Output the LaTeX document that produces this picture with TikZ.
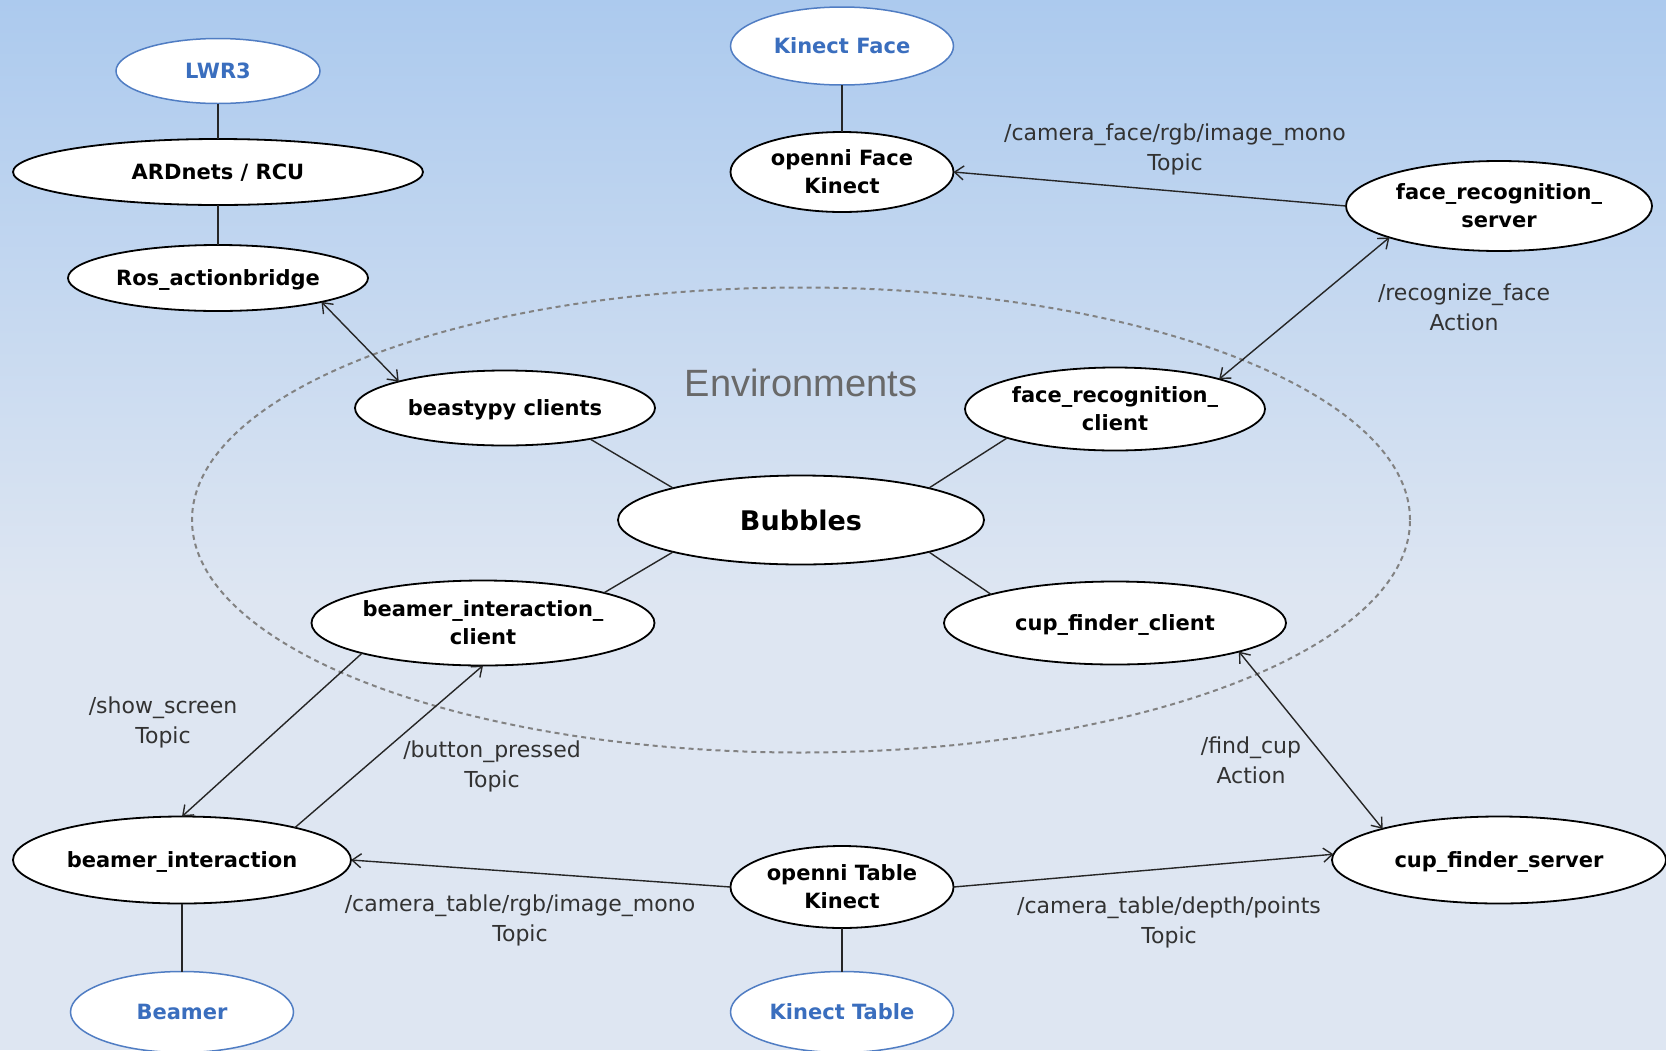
\documentclass[tikz,border=0pt]{standalone}
\usepackage{fontspec}
\setmainfont{DejaVu Sans}
\newfontfamily\envfont{Liberation Sans}
\usetikzlibrary{shapes.geometric,arrows.meta}
\definecolor{bgtop}{RGB}{172,202,238}
\definecolor{bgbot}{RGB}{222,230,242}
\definecolor{hwblue}{RGB}{58,110,190}
\definecolor{hwline}{RGB}{80,125,195}
\definecolor{lblgray}{RGB}{50,50,50}
\definecolor{envgray}{RGB}{105,105,105}
\definecolor{dashgray}{RGB}{130,130,130}
\begin{document}
\begin{tikzpicture}[x=1pt,y=-1pt,
  sw/.style={ellipse, draw=black, line width=1.8pt, fill=white, inner sep=0pt, outer sep=0pt, align=center, font=\fontsize{21}{28}\selectfont\bfseries},
  one/.style={text depth=0pt},
  hw/.style={sw, draw=hwline, line width=1.5pt, text=hwblue},
  conn/.style={draw=black!85, line width=1.4pt},
  tip/.style={conn, -{Straight Barb[length=9pt,width=14pt]}},
  tips/.style={conn, {Straight Barb[length=9pt,width=14pt]}-{Straight Barb[length=9pt,width=14pt]}},
  lbl/.style={align=center, text=lblgray, font=\fontsize{22}{30}\selectfont, inner sep=0pt}]
\useasboundingbox (0,0) rectangle (1666,1050);
\shade[top color=bgtop, bottom color=bgbot] (0,0) rectangle (1666,600);
\fill[bgbot] (0,599) rectangle (1666,1050);
% environment ellipse
\node[ellipse, draw=dashgray, line width=2pt, dash pattern=on 5pt off 4pt, minimum width=1218pt, minimum height=465pt, inner sep=0pt] (env) at (801,520) {};
\node[text=envgray, font=\envfont\fontsize{38}{40}\selectfont, inner sep=0pt] (envlbl) at (801,383) {Environments};
% nodes
\node[hw, minimum width=204pt, minimum height=65pt] (lwr) at (218,71) {LWR3};
\node[sw, one, minimum width=410pt, minimum height=66pt] (ard) at (218,172) {ARDnets / RCU};
\node[sw, one, minimum width=300pt, minimum height=66pt] (ros) at (218,278) {Ros\_actionbridge};
\node[hw, minimum width=223pt, minimum height=78pt] (kface) at (842,46) {Kinect Face};
\node[sw, minimum width=223pt, minimum height=80pt] (oface) at (842,172) {openni Face\\Kinect};
\node[sw, minimum width=306pt, minimum height=90pt] (frs) at (1499,206) {face\_recognition\_\\server};
\node[sw, one, minimum width=300pt, minimum height=75pt] (beast) at (505,408) {beastypy clients};
\node[sw, minimum width=300pt, minimum height=83pt] (frc) at (1115,409) {face\_recognition\_\\client};
\node[sw, minimum width=366pt, minimum height=89pt, font=\fontsize{27}{32}\selectfont\bfseries] (bub) at (801,520) {Bubbles};
\node[sw, minimum width=343pt, minimum height=85pt] (bic) at (483,623) {beamer\_interaction\_\\client};
\node[sw, one, minimum width=342pt, minimum height=83pt] (cfc) at (1115,623) {cup\_finder\_client};
\node[sw, one, minimum width=338pt, minimum height=87pt] (bi) at (182,860) {beamer\_interaction};
\node[sw, minimum width=223pt, minimum height=82pt] (otab) at (842,887) {openni Table\\Kinect};
\node[sw, one, minimum width=334pt, minimum height=87pt] (cfs) at (1499,860) {cup\_finder\_server};
\node[hw, minimum width=223pt, minimum height=81pt] (beamer) at (182,1012) {Beamer};
\node[hw, minimum width=223pt, minimum height=81pt] (ktab) at (842,1012) {Kinect Table};
% plain connectors
\draw[conn] (lwr.south) -- (ard.north);
\draw[conn] (ard.south) -- (ros.north);
\draw[conn] (kface.south) -- (oface.north);
\draw[conn] (otab.south) -- (ktab.north);
\draw[conn] (bi.south) -- (beamer.north);
\draw[conn] (bub.166) -- (beast.-20);
\draw[conn] (bub.14) -- (frc.195);
\draw[conn] (bub.194) -- (bic.14);
\draw[conn] (bub.-14) -- (cfc.167);
% arrows
\draw[tips] (ros.-13) -- (beast.166);
\draw[tip] (frs.west) -- (oface.east);
\draw[tips] (frc.16) -- (frs.196);
\draw[tip] (bic.194) -- (bi.north);
\draw[tip] (bi.16) -- (bic.south);
\draw[tip] (otab.west) -- (bi.east);
\draw[tip] (otab.east) -- (cfs.178);
\draw[tips] (cfc.-13) -- (cfs.165);
% labels
\node[lbl] (l1) at (1175,149) {/camera\_face/rgb/image\_mono\\Topic};
\node[lbl] (l2) at (1464,307) {/recognize\_face\\Action};
\node[lbl] (l3) at (163,722) {/show\_screen\\Topic};
\node[lbl] (l4) at (492,766) {/button\_pressed\\Topic};
\node[lbl] (l5) at (1251,760) {/find\_cup\\Action};
\node[lbl] (l6) at (520,920) {/camera\_table/rgb/image\_mono\\Topic};
\node[lbl] (l7) at (1169,922) {/camera\_table/depth/points\\Topic};
\end{tikzpicture}
\end{document}
